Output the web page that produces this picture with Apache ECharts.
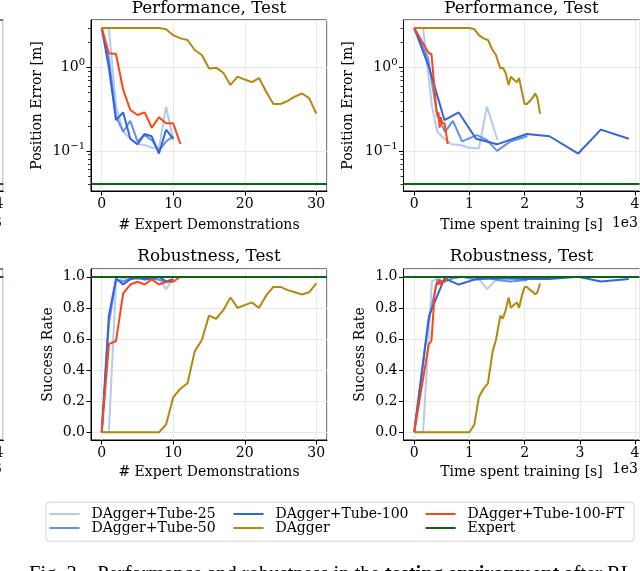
<!DOCTYPE html>
<html><head><meta charset="utf-8">
<script src="https://cdn.jsdelivr.net/npm/echarts@6/dist/echarts.min.js"></script>
<style>html,body{margin:0;padding:0;background:#fff}#c{width:640px;height:571px}</style>
</head><body><div id="c"></div>
<script>
// ---------- DATA ----------
const seriesNames = ['DAgger+Tube-25','DAgger+Tube-50','DAgger+Tube-100','DAgger','DAgger+Tube-100-FT','Expert'];

const demosTube25  = [0,1,2,3,4,5,6,7,8,9,10];
const demosTube50  = [0,1,2,3,4,5,6,7,8,9,10];
const demosTube100 = [0,1,2,3,4,5,6,7,8,9,10];
const demosFT      = [0,1,2,3,4,5,6,7,8,9,10,11];
const demosDAgger  = [0,1,2,3,4,5,6,7,8,9,10,11,12,13,14,15,16,17,18,19,20,21,22,23,24,25,26,27,28,29,30];

const timeTube25  = [0,160,320,420,540,680,836,980,1170,1317,1510];
const timeTube50  = [0,250,420,560,700,866,1137,1320,1500,1740,2050];
const timeTube100 = [0,270,547,806,1120,1500,2040,2450,2970,3380,3886];
const timeFT      = [0,264,312,370,400,420,440,460,480,510,550,607];
const timeDAgger  = [0,125,250,375,500,625,750,875,1000,1090,1170,1255,1335,1420,1480,1560,1605,1655,1710,1750,1800,1860,1900,1950,2000,2040,2100,2160,2190,2230,2280];

const perfTube25  = [3.0,3.0,0.35,0.17,0.14,0.12,0.118,0.11,0.107,0.34,0.135];
const perfTube50  = [3.0,1.3,0.26,0.17,0.23,0.13,0.155,0.135,0.10,0.13,0.15];
const perfTube100 = [3.0,1.0,0.235,0.29,0.14,0.12,0.16,0.15,0.093,0.18,0.14];
const perfFT      = [3.0,1.49,1.46,0.54,0.31,0.27,0.29,0.19,0.254,0.215,0.215,0.121];
const perfDAgger  = [3.0,3.0,3.0,3.0,3.0,3.0,3.0,3.0,3.0,2.9,2.46,2.25,2.15,1.63,1.42,0.98,1.0,0.87,0.62,0.78,0.72,0.67,0.75,0.515,0.366,0.366,0.40,0.45,0.49,0.43,0.28];
const perfExpert  = [0.041];

const robTube25  = [0,0,0.97,0.99,1.0,0.99,1.0,1.0,0.99,0.92,0.99];
const robTube50  = [0,0.70,0.98,0.97,0.99,1.0,0.98,0.99,0.98,0.97,0.98];
const robTube100 = [0,0.75,0.99,0.95,0.985,0.99,0.985,0.985,1.0,0.97,0.985];
const robFT      = [0,0.567,0.587,0.893,0.95,0.968,0.95,0.983,0.95,0.968,0.968,1.0];
const robDAgger  = [0,0,0,0,0,0,0,0,0,0.05,0.225,0.28,0.315,0.52,0.593,0.75,0.73,0.785,0.867,0.80,0.818,0.835,0.80,0.88,0.935,0.935,0.914,0.90,0.886,0.90,0.957];
const robExpert  = [1.0];

const logMinorTicks = [0.04,0.05,0.06,0.07,0.08,0.09,0.2,0.3,0.4,0.5,0.6,0.7,0.8,0.9,2,3];

// ---------- STYLE ----------
const FONT = 'DejaVu Serif';
const colorOf = {
  'DAgger+Tube-25': '#b3cbef',
  'DAgger+Tube-50': '#6390e8',
  'DAgger+Tube-100': '#3464dc',
  'DAgger': '#b8860b',
  'DAgger+Tube-100-FT': '#ff4513',
  'Expert': '#0b6414'
};
const txt = {fontFamily: FONT, fontSize: 14, color: '#000', fontWeight: 'normal'};
const gridLine = {show: true, lineStyle: {color: '#e9e9e9', width: 1}};
const tick = {show: true, length: 4.5, lineStyle: {color: '#000', width: 1}};
const axLine = {show: true, onZero: false, lineStyle: {color: '#000', width: 1}};

const L = 91, L2 = 403.5, W = 236, T1 = 20, T2 = 269, H = 171;
const grids = [
  {left: L, top: T1, width: W, height: H},
  {left: L2, top: T1, width: W, height: H},
  {left: L, top: T2, width: W, height: H},
  {left: L2, top: T2, width: W, height: H},
  {left: 3.3 - W, top: T1, width: W, height: H},
  {left: 3.3 - W, top: T2, width: W, height: H}
].map(g => Object.assign(g, {show: true, borderColor: '#000', borderWidth: 1, backgroundColor: 'transparent',
  containLabel: false, outerBoundsMode: 'none'}));

function demosAxis(gi, gap) {
  return {type: 'value', gridIndex: gi, min: -1.5, max: 31.5, minInterval: 10, maxInterval: 10,
    axisLine: axLine, axisTick: tick, splitLine: gridLine,
    axisLabel: Object.assign({}, txt, {margin: 6, showMinLabel: false, showMaxLabel: false}),
    name: '# Expert Demonstrations', nameLocation: 'middle', nameGap: gap, nameTextStyle: txt};
}
function timeAxis(gi, withName, gap) {
  return {type: 'value', gridIndex: gi, min: -194.3, max: 4080.3, minInterval: 1000, maxInterval: 1000,
    axisLine: axLine, axisTick: tick, splitLine: gridLine,
    axisLabel: Object.assign({}, txt, {margin: 6, showMinLabel: false, showMaxLabel: false,
      formatter: v => String(Math.round(v / 1000))}),
    name: withName ? 'Time spent training [s]' : '', nameLocation: 'middle', nameGap: gap, nameTextStyle: txt};
}
function perfAxis(gi, gap, hidden) {
  return {type: 'log', logBase: 10, gridIndex: gi, min: 0.033, max: 3.74, show: !hidden, position: 'left',
    axisLine: axLine, axisTick: tick, splitLine: gridLine,
    axisLabel: Object.assign({}, txt, {margin: 6, showMinLabel: false, showMaxLabel: false,
      formatter: v => { const e = Math.round(Math.log10(v)); return '10{s|' + (e < 0 ? '\u2212' + (-e) : e) + '}'; },
      rich: {s: {fontFamily: FONT, fontSize: 10, color: '#000', padding: [0, 0, 10, 0]}}}),
    name: 'Position Error [m]', nameLocation: 'middle', nameGap: gap, nameTextStyle: txt};
}
function robAxis(gi, gap, hidden) {
  return {type: 'value', gridIndex: gi, min: -0.05, max: 1.05, minInterval: 0.2, maxInterval: 0.2, show: !hidden,
    position: 'left', axisLine: axLine, axisTick: tick, splitLine: gridLine,
    axisLabel: Object.assign({}, txt, {margin: 6, showMinLabel: false, showMaxLabel: false,
      formatter: v => v.toFixed(1)}),
    name: 'Success Rate', nameLocation: 'middle', nameGap: gap, nameTextStyle: txt};
}
function minorAxis(gi) {
  return {type: 'log', logBase: 10, gridIndex: gi, min: 0.033, max: 3.74, position: 'left', offset: 0,
    axisLine: {show: false, onZero: false}, splitLine: {show: false}, axisLabel: {show: false},
    axisTick: {show: true, length: 3, customValues: logMinorTicks, lineStyle: {color: '#000', width: 0.8}}};
}

function line(name, xs, ys, xi, yi) {
  const c = colorOf[name];
  return {type: 'line', name, xAxisIndex: xi, yAxisIndex: yi,
    data: xs.map((x, i) => [x, ys[i]]),
    symbol: 'none', showSymbol: false, silent: true, animation: false,
    lineStyle: {width: 2, color: c}, itemStyle: {color: c}, emphasis: {disabled: true}};
}
function expert(vals, xi, yi) {
  const c = colorOf['Expert'];
  return {type: 'line', name: 'Expert', xAxisIndex: xi, yAxisIndex: yi, data: [],
    symbol: 'none', silent: true, animation: false,
    lineStyle: {width: 2, color: c}, itemStyle: {color: c},
    markLine: {symbol: 'none', silent: true, animation: false, label: {show: false},
      lineStyle: {color: c, width: 2, type: 'solid'},
      data: vals.map(v => ({yAxis: v}))}};
}

function panel(xi, yi, useTime, useRob) {
  const X = useTime ? [timeTube25, timeTube50, timeTube100, timeDAgger, timeFT]
                    : [demosTube25, demosTube50, demosTube100, demosDAgger, demosFT];
  const Y = useRob ? [robTube25, robTube50, robTube100, robDAgger, robFT]
                   : [perfTube25, perfTube50, perfTube100, perfDAgger, perfFT];
  const order = ['DAgger+Tube-25','DAgger+Tube-50','DAgger+Tube-100','DAgger','DAgger+Tube-100-FT'];
  const out = order.map((nm, k) => line(nm, X[k], Y[k], xi, yi));
  out.push(expert(useRob ? robExpert : perfExpert, xi, yi));
  return out;
}

const series = [].concat(
  panel(0, 0, false, false),
  panel(1, 1, true, false),
  panel(2, 2, false, true),
  panel(3, 3, true, true),
  [expert(perfExpert, 4, 4), expert(robExpert, 5, 5)]
);

const titleStyle = {fontFamily: FONT, fontSize: 16.8, fontWeight: 'normal', color: '#000'};
const legendBase = {orient: 'vertical', top: 507, itemWidth: 30, itemHeight: 2, itemGap: 0,
  icon: 'rect', padding: 0, selectedMode: false,
  textStyle: Object.assign({}, txt, {padding: [0, 0, 0, 7]})};

const option = {
  animation: false,
  backgroundColor: '#fff',
  grid: grids,
  xAxis: [demosAxis(0, 27), timeAxis(1, true, 27), demosAxis(2, 25.5), timeAxis(3, true, 25.5),
          timeAxis(4, false, 27), timeAxis(5, false, 25.5)],
  yAxis: [perfAxis(0, 47), perfAxis(1, 48.5), robAxis(2, 36), robAxis(3, 36.5),
          perfAxis(4, 47, true), robAxis(5, 36, true), minorAxis(0), minorAxis(1)],
  title: [
    {text: 'Performance, Test', left: 209, top: 0, textAlign: 'center', padding: 0, textStyle: titleStyle},
    {text: 'Performance, Test', left: 521.5, top: 0, textAlign: 'center', padding: 0, textStyle: titleStyle},
    {text: 'Robustness, Test', left: 209, top: 248, textAlign: 'center', padding: 0, textStyle: titleStyle},
    {text: 'Robustness, Test', left: 521.5, top: 248, textAlign: 'center', padding: 0, textStyle: titleStyle},
    {text: '1e3', left: 638, top: 216, textAlign: 'right', padding: 0, textStyle: txt},
    {text: '1e3', left: 638, top: 462, textAlign: 'right', padding: 0, textStyle: txt},
    {text: '1e3', left: 2, top: 216, textAlign: 'right', padding: 0, textStyle: txt},
    {text: '1e3', left: 2, top: 462, textAlign: 'right', padding: 0, textStyle: txt},
    {text: 'Fig. 3.   Performance and robustness in the {b|testing environment} after RL', left: 29, top: 564, padding: 0,
      textStyle: {fontFamily: 'Liberation Serif', fontSize: 20.5, fontWeight: 'normal', color: '#000',
        rich: {b: {fontFamily: 'Liberation Serif', fontSize: 20.5, fontWeight: 'bold', color: '#000'}}}}
  ],
  graphic: [{type: 'rect', left: 45.5, top: 501.7, z: -1,
    shape: {width: 588, height: 39, r: 3}, style: {fill: '#fff', stroke: '#d3d3d3', lineWidth: 1}}],
  legend: [
    Object.assign({}, legendBase, {left: 49.5, data: ['DAgger+Tube-25', 'DAgger+Tube-50']}),
    Object.assign({}, legendBase, {left: 233.5, data: ['DAgger+Tube-100', 'DAgger']}),
    Object.assign({}, legendBase, {left: 425.6, data: ['DAgger+Tube-100-FT', 'Expert']})
  ],
  series
};

const chart = echarts.init(document.getElementById('c'), null, {renderer: 'canvas'});
chart.setOption(option);
</script></body></html>
